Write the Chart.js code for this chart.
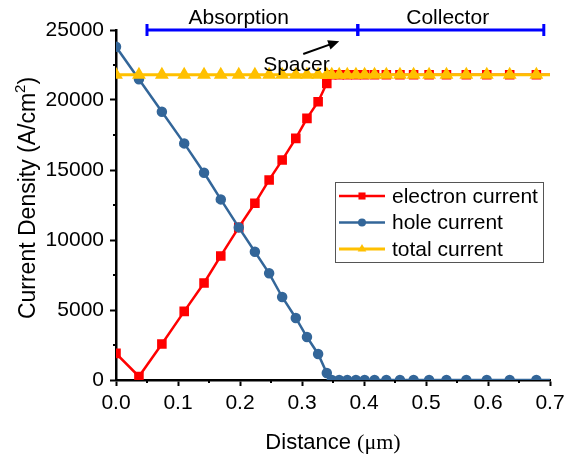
<!DOCTYPE html>
<html>
<head>
<meta charset="utf-8">
<script src="https://cdn.jsdelivr.net/npm/chart.js@4/dist/chart.umd.min.js"></script>
<style>
  body { margin: 0; background: #fff; }
  #wrap { width: 571px; height: 458px; }
</style>
</head>
<body>
<div id="wrap"><canvas id="chart"></canvas></div>
<script>
// distance mesh (um), shared by all three curves
const distance = [0, 0.037, 0.074, 0.110, 0.142, 0.169, 0.198, 0.224, 0.247, 0.268,
  0.290, 0.308, 0.326, 0.340, 0.348, 0.360, 0.373, 0.387, 0.401, 0.417,
  0.436, 0.458, 0.480, 0.505, 0.533, 0.565, 0.598, 0.635, 0.678, 0.700];

// current density (A/cm^2)
const electronCurrent = [1900, 250, 2570, 4900, 6930, 8860, 10900, 12620, 14290, 15710,
  17260, 18690, 19880, 21190, 21800, 21800, 21800, 21800, 21800, 21800,
  21800, 21800, 21800, 21800, 21800, 21800, 21800, 21800, 21800, 21800];
const holeCurrent = [23800, 21480, 19160, 16900, 14800, 12900, 10900, 9160, 7620, 5930,
  4430, 3070, 1860, 500, 0, 0, 0, 0, 0, 0,
  0, 0, 0, 0, 0, 0, 0, 0, 0, 0];
const totalCurrent = [21800, 21800, 21800, 21800, 21800, 21800, 21800, 21800, 21800, 21800,
  21800, 21800, 21800, 21800, 21800, 21800, 21800, 21800, 21800, 21800,
  21800, 21800, 21800, 21800, 21800, 21800, 21800, 21800, 21800, 21800];

const seriesNames = ["electron current", "hole current", "total current"];

const xTicks = [0, 0.1, 0.2, 0.3, 0.4, 0.5, 0.6, 0.7];
const xMinor = [0.05, 0.15, 0.25, 0.35, 0.45, 0.55, 0.65];
const yMinor = [2500, 7500, 12500, 17500, 22500];

// region bars above the plot
const regions = [
  { label: "Absorption", from: 0.05, to: 0.39, labelAt: 0.198 },
  { label: "Collector", from: 0.39, to: 0.69, labelAt: 0.535 }
];
const regionLevel = 25000;

const SANS = '"Liberation Sans", Arial, sans-serif';
const SERIF = '"Liberation Serif", "Times New Roman", serif';

const pts = arr => arr.map((v, i) => ({ x: distance[i], y: v }));
// last mesh point has no marker
const markerSize = r => ctx => ctx.dataIndex === distance.length - 1 ? 0 : r;

const datasets = [
  { label: seriesNames[0], data: pts(electronCurrent), borderColor: "#ff0000", backgroundColor: "#ff0000",
    borderWidth: 2.5, pointStyle: "rect", pointRadius: markerSize(5), order: 2 },
  { label: seriesNames[1], data: pts(holeCurrent), borderColor: "#336699", backgroundColor: "#336699",
    borderWidth: 2.5, pointStyle: "circle", pointRadius: markerSize(4), order: 1 },
  { label: seriesNames[2], data: pts(totalCurrent), borderColor: "#ffc000", backgroundColor: "#ffc000",
    borderWidth: 3, pointStyle: "triangle", pointRadius: markerSize(5), order: 0 }
];

function line(ctx, x1, y1, x2, y2) {
  ctx.beginPath(); ctx.moveTo(x1, y1); ctx.lineTo(x2, y2); ctx.stroke();
}

const overlay = {
  id: "overlay",
  afterDraw(chart) {
    const { ctx, chartArea: a } = chart;
    const x = chart.scales.x, y = chart.scales.y;
    ctx.save();

    // minor ticks
    ctx.strokeStyle = "#000";
    ctx.lineWidth = 2;
    xMinor.forEach(v => { const p = x.getPixelForValue(v); line(ctx, p, a.bottom, p, a.bottom + 3); });
    yMinor.forEach(v => { const p = y.getPixelForValue(v); line(ctx, a.left - 3, p, a.left, p); });

    // region bars
    const by = y.getPixelForValue(regionLevel);
    ctx.strokeStyle = "#0000ff";
    ctx.lineWidth = 3;
    ctx.fillStyle = "#000";
    ctx.font = "21px " + SANS;
    ctx.textAlign = "center";
    ctx.textBaseline = "middle";
    regions.forEach(r => {
      const x1 = x.getPixelForValue(r.from), x2 = x.getPixelForValue(r.to);
      line(ctx, x1, by, x2, by);
      line(ctx, x1, by - 6, x1, by + 6);
      line(ctx, x2, by - 6, x2, by + 6);
      ctx.fillText(r.label, x.getPixelForValue(r.labelAt), by - 12);
    });

    // spacer arrow
    const ax1 = x.getPixelForValue(0.302), ay1 = y.getPixelForValue(23290);
    const ax2 = x.getPixelForValue(0.360), ay2 = y.getPixelForValue(24200);
    ctx.strokeStyle = "#000";
    ctx.lineWidth = 2;
    const ang = Math.atan2(ay2 - ay1, ax2 - ax1);
    line(ctx, ax1, ay1, ax2 - 8 * Math.cos(ang), ay2 - 8 * Math.sin(ang));
    ctx.beginPath();
    ctx.moveTo(ax2, ay2);
    ctx.lineTo(ax2 - 11 * Math.cos(ang) + 5 * Math.sin(ang), ay2 - 11 * Math.sin(ang) - 5 * Math.cos(ang));
    ctx.lineTo(ax2 - 11 * Math.cos(ang) - 5 * Math.sin(ang), ay2 - 11 * Math.sin(ang) + 5 * Math.cos(ang));
    ctx.closePath();
    ctx.fill();
    ctx.fillText("Spacer", x.getPixelForValue(0.291), y.getPixelForValue(22500));

    // legend
    const lx = 335, ly = 182, lw = 208, lh = 80;
    ctx.fillStyle = "#fff";
    ctx.fillRect(lx, ly, lw, lh);
    ctx.strokeStyle = "#555";
    ctx.lineWidth = 1;
    ctx.strokeRect(lx + 0.5, ly + 0.5, lw, lh);
    ctx.textAlign = "left";
    ctx.font = "21px " + SANS;
    chart.data.datasets.forEach((ds, i) => {
      const ry = ly + 14 + i * 26.5;
      ctx.strokeStyle = ds.borderColor;
      ctx.lineWidth = ds.borderWidth;
      line(ctx, lx + 4, ry, lx + 50, ry);
      ctx.fillStyle = ds.backgroundColor;
      Chart.helpers.drawPoint(ctx, { pointStyle: ds.pointStyle, radius: ds.pointStyle === "circle" ? 4 : 5, borderWidth: 0, rotation: 0 }, lx + 27, ry);
      ctx.fillStyle = "#000";
      ctx.fillText(ds.label, lx + 57, ry + 1);
    });

    // axis titles
    ctx.fillStyle = "#000";
    ctx.textBaseline = "alphabetic";
    ctx.textAlign = "left";
    const t1 = "Distance ";
    ctx.font = "22px " + SANS; const w1 = ctx.measureText(t1).width;
    ctx.font = "22px " + SERIF; const w2 = ctx.measureText("(\u03bcm)").width;
    let tx = 333 - (w1 + w2) / 2;
    ctx.font = "22px " + SANS; ctx.fillText(t1, tx, 449);
    ctx.font = "22px " + SERIF; ctx.fillText("(\u03bcm)", tx + w1, 449);

    ctx.translate(35, 198);
    ctx.rotate(-Math.PI / 2);
    const a1 = "Current Density (A/cm", a2 = "2", a3 = ")";
    ctx.font = "23px " + SANS; const m1 = ctx.measureText(a1).width, m3 = ctx.measureText(a3).width;
    ctx.font = "15px " + SANS; const m2 = ctx.measureText(a2).width;
    const sx = -(m1 + m2 + m3) / 2;
    ctx.font = "23px " + SANS; ctx.fillText(a1, sx, 0);
    ctx.font = "15px " + SANS; ctx.fillText(a2, sx + m1, -10);
    ctx.font = "23px " + SANS; ctx.fillText(a3, sx + m1 + m2, 0);
    ctx.restore();
  }
};

new Chart(document.getElementById("chart"), {
  type: "line",
  data: { datasets },
  options: {
    responsive: true,
    maintainAspectRatio: false,
    animation: false,
    layout: { padding: { top: 30, right: 21, left: 0, bottom: 0 } },
    plugins: { legend: { display: false }, tooltip: { enabled: false } },
    scales: {
      x: {
        type: "linear", min: 0, max: 0.7,
        afterBuildTicks: s => { s.ticks = xTicks.map(v => ({ value: v })); },
        afterFit: s => { s.height = 78; },
        grid: { display: true, drawOnChartArea: false, drawTicks: true, tickLength: 6, tickWidth: 2, tickColor: "#000" },
        border: { display: true, color: "#000", width: 2.5 },
        ticks: { color: "#000", font: { family: SANS, size: 21 }, padding: 5, maxRotation: 0,
          callback: v => v.toFixed(1) }
      },
      y: {
        min: 0, max: 25000,
        ticks: { stepSize: 5000, color: "#000", font: { family: SANS, size: 21 }, padding: 6,
          callback: v => String(v) },
        afterFit: s => { s.width = 116; },
        grid: { display: true, drawOnChartArea: false, drawTicks: true, tickLength: 6, tickWidth: 2, tickColor: "#000" },
        border: { display: true, color: "#000", width: 2.5 }
      }
    }
  },
  plugins: [overlay]
});
</script>
</body>
</html>
